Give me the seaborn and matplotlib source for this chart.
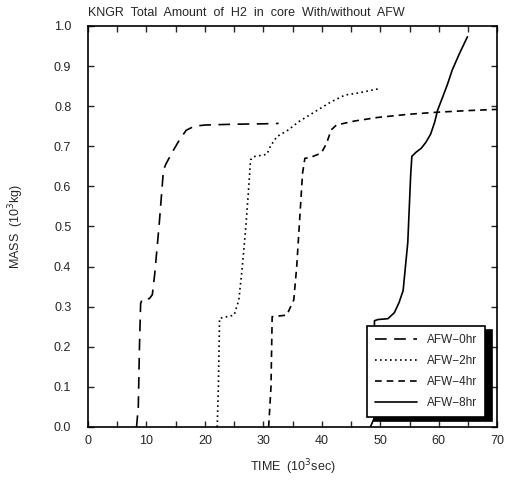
import numpy as np
import pandas as pd
import matplotlib
matplotlib.use("Agg")
import matplotlib.pyplot as plt
import seaborn as sns
from matplotlib.ticker import MultipleLocator, FormatStrFormatter

# ---- data ----
t0 = [8.3, 8.6, 8.8, 9.0, 9.3, 10.5, 11.0, 11.4, 12.2, 12.9, 13.3, 14.4, 15.6, 16.8, 18.2, 20.0, 25.0, 30.0, 32.6]
m0 = [0.0, 0.05, 0.20, 0.308, 0.32, 0.32, 0.33, 0.38, 0.51, 0.64, 0.655, 0.685, 0.715, 0.740, 0.750, 0.753, 0.755, 0.756, 0.757]

t2 = [22.1, 22.3, 22.5, 25.0, 25.8, 26.4, 27.0, 27.5, 27.8, 28.3, 30.6, 31.2, 32.3, 34.3, 36.0, 38.8, 41.6, 44.0, 45.9, 49.6]
m2 = [0.0, 0.10, 0.271, 0.279, 0.317, 0.40, 0.50, 0.60, 0.666, 0.674, 0.68, 0.70, 0.724, 0.741, 0.761, 0.786, 0.811, 0.828, 0.832, 0.843]

t4 = [30.9, 31.3, 31.5, 34.0, 35.2, 35.7, 36.3, 36.7, 37.1, 38.0, 39.9, 40.8, 41.6, 42.5, 45.6, 49.6, 55.0, 59.8, 65.0, 70.0]
m4 = [0.0, 0.10, 0.275, 0.279, 0.317, 0.40, 0.54, 0.633, 0.67, 0.672, 0.683, 0.707, 0.741, 0.753, 0.763, 0.772, 0.780, 0.785, 0.789, 0.792]

t8 = [48.3, 48.9, 49.0, 49.6, 51.3, 52.4, 53.2, 53.9, 54.7, 55.2, 55.4, 56.1, 57.0, 57.8, 58.6, 59.3, 59.8, 60.7, 61.5, 62.3, 63.5, 64.9]
m8 = [0.0, 0.02, 0.265, 0.268, 0.27, 0.285, 0.31, 0.34, 0.46, 0.63, 0.675, 0.685, 0.695, 0.71, 0.73, 0.76, 0.79, 0.824, 0.855, 0.89, 0.93, 0.973]

labels = ["AFW\u22120hr", "AFW\u22122hr", "AFW\u22124hr", "AFW\u22128hr"]

sns.set_style("ticks")
plt.rcParams["font.family"] = ["Liberation Sans", "DejaVu Sans"]

fig = plt.figure(figsize=(5.05, 4.90), dpi=100)
ax = fig.add_axes([0.1743, 0.1286, 0.8103, 0.8184])

styles = [
    dict(dashes=(7, 4.5)),
    dict(dashes=(1, 2)),
    dict(dashes=(4, 3)),
    dict(linestyle="-"),
]
series = [(t0, m0), (t2, m2), (t4, m4), (t8, m8)]
for (tx, my), lab, st in zip(series, labels, styles):
    df = pd.DataFrame({"t": tx, "m": my})
    sns.lineplot(data=df, x="t", y="m", ax=ax, color="black", linewidth=1.2,
                 sort=False, estimator=None, label=lab, **st)

ax.set_xlim(0, 70)
ax.set_ylim(0, 1.0)
ax.xaxis.set_major_locator(MultipleLocator(10))
ax.xaxis.set_minor_locator(MultipleLocator(5))
ax.yaxis.set_major_locator(MultipleLocator(0.1))
ax.yaxis.set_major_formatter(FormatStrFormatter("%.1f"))
ax.tick_params(which="both", direction="in", top=True, right=True,
               length=4, width=1.0, labelsize=9)
ax.tick_params(axis="x", pad=6)
ax.tick_params(axis="y", pad=12)
for s in ax.spines.values():
    s.set_linewidth(1.2)
    s.set_color("black")

ax.set_xlabel("TIME  (10$^3$sec)", fontsize=9, labelpad=7)
ax.set_ylabel("MASS  (10$^3$kg)", fontsize=9, labelpad=20)
ax.set_title("KNGR  Total  Amount  of  H2  in  core  With/without  AFW",
             fontsize=9, loc="left", pad=7)

leg = ax.legend(loc="lower right", bbox_to_anchor=(0.971, 0.025),
                borderaxespad=0, fancybox=False, framealpha=1,
                edgecolor="black", fontsize=8.5, handlelength=3.6,
                labelspacing=0.75, borderpad=0.7,
                shadow={"ox": 5, "oy": -3, "color": "black", "alpha": 1})
leg.get_frame().set_linewidth(1.2)

fig.savefig("out.png", dpi=100)
